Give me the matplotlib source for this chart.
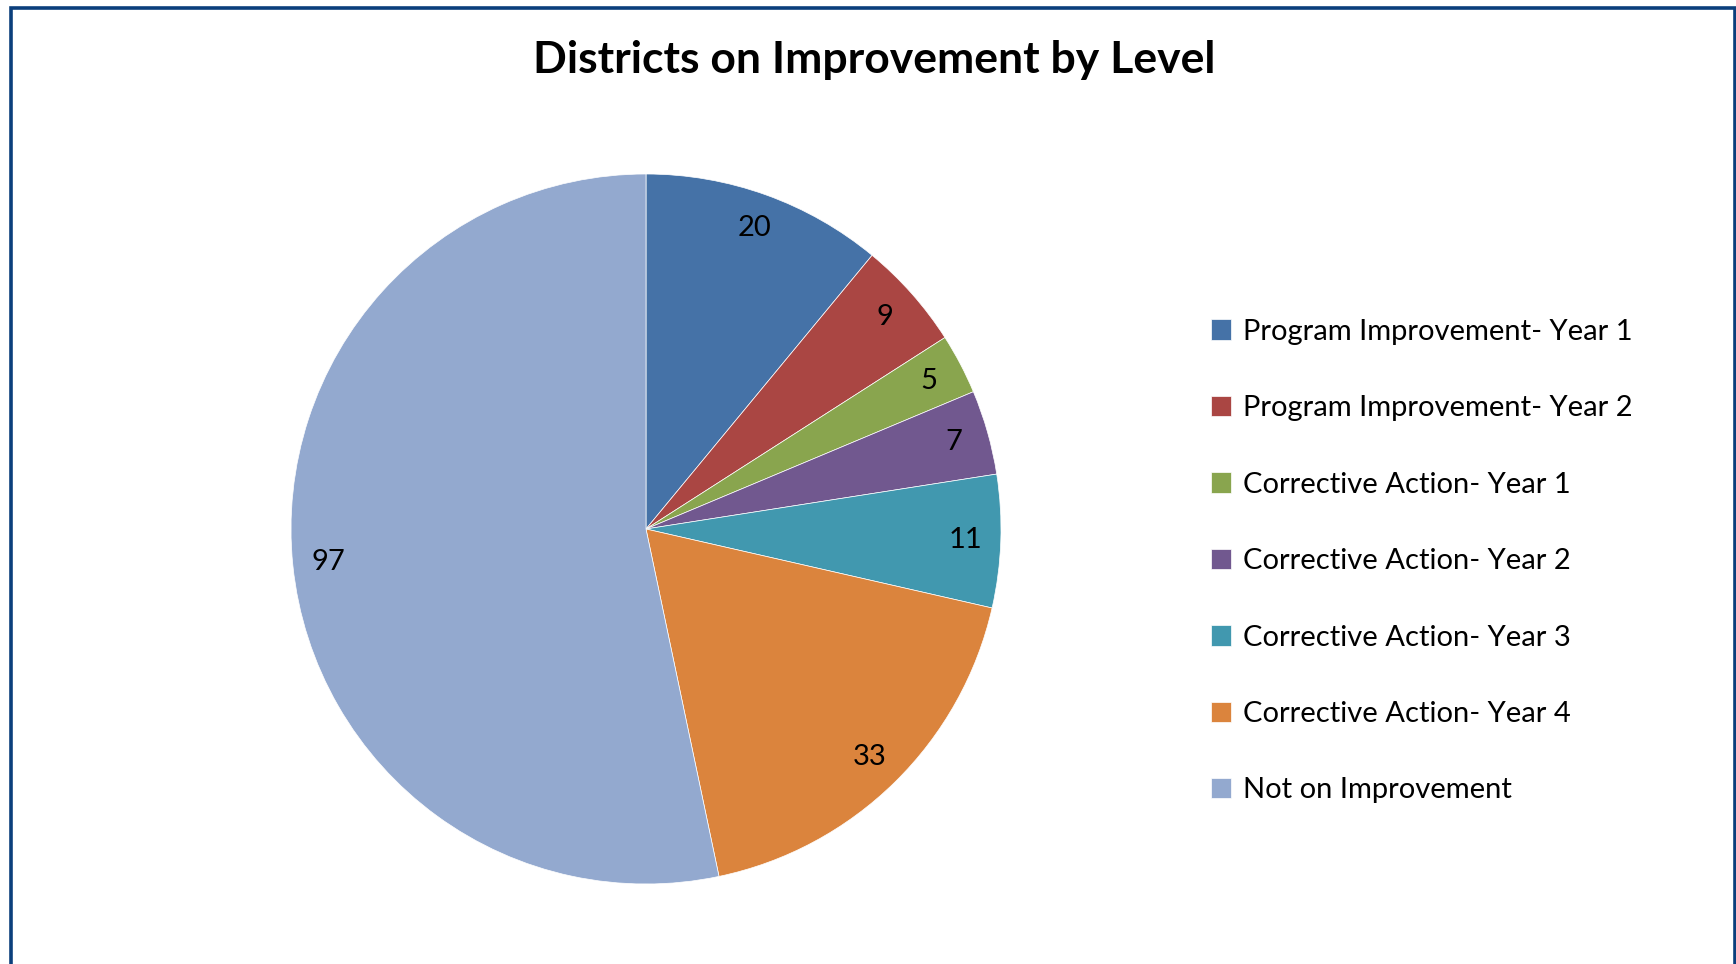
from matplotlib import pyplot as plt
from matplotlib.patches import Rectangle

plt.rcParams['font.family'] = ['Lato', 'DejaVu Sans']

# data
labels = ["Program Improvement- Year 1", "Program Improvement- Year 2",
          "Corrective Action- Year 1", "Corrective Action- Year 2",
          "Corrective Action- Year 3", "Corrective Action- Year 4",
          "Not on Improvement"]
values = [20, 9, 5, 7, 11, 33, 97]
colors = ["#4572A7", "#AA4643", "#89A54E", "#71588F", "#4198AF", "#DB843D", "#93A9CF"]

W, H = 1736, 964
fig = plt.figure(figsize=(W / 100, H / 100), dpi=100)

# outer chart border
fig.patches.append(Rectangle((11 / W, -0.05), (1735 - 11) / W, 1.05 - 7.5 / H,
                             transform=fig.transFigure, fill=False,
                             edgecolor="#0B3F7C", linewidth=2.6))

# pie axes: centre (646, 529) px, radius 355 px
cx, cy, r = 646, 529, 355
ax = fig.add_axes([(cx - r) / W, (H - cy - r) / H, 2 * r / W, 2 * r / H])

total = sum(values)
wedges, texts, autotexts = ax.pie(values, colors=colors, startangle=90, counterclock=False,
                                  autopct=lambda p: "%d" % round(p * total / 100),
                                  pctdistance=0.9,
                                  wedgeprops=dict(linewidth=0.5, edgecolor="white"),
                                  textprops=dict(fontsize=21, color="black"))
ax.set_xlim(-1, 1)
ax.set_ylim(-1, 1)

fig.text(874 / W, 1 - 60 / H, "Districts on Improvement by Level",
         ha="center", va="center", fontsize=32, fontweight="bold")

fig.legend(wedges, labels, loc="center left", bbox_to_anchor=(1196 / W, 0.418),
           frameon=False, fontsize=21, handlelength=0.7, handleheight=0.7,
           handletextpad=0.4, labelspacing=1.73, borderpad=0)

plt.savefig("out.png", dpi=100)
